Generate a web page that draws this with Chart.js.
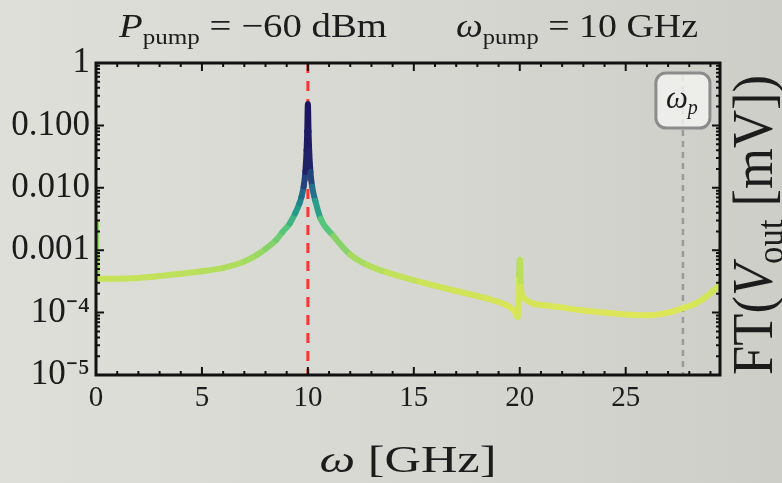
<!DOCTYPE html>
<html>
<head>
<meta charset="utf-8">
<script src="https://cdn.jsdelivr.net/npm/chart.js@4.4.1/dist/chart.umd.min.js"></script>
<style>
  html, body { margin: 0; padding: 0; }
  body {
    width: 782px; height: 483px; overflow: hidden;
    background: linear-gradient(90deg, #dedfd9 0%, #d6d7d1 55%, #cdcec8 100%);
  }
  canvas { display: block; }
</style>
</head>
<body>
<canvas id="spectrum" width="782" height="483"></canvas>
<script>
// spectrum of the output voltage, pump at 10 GHz, -60 dBm
const freqGHz = [0, 0.05, 1, 2, 3, 4, 5, 6, 7, 7.6,
  8, 8.5, 8.8, 9.15, 9.4, 9.6, 9.7, 9.8, 9.88, 9.94,
  9.97, 10, 10.03, 10.06, 10.12, 10.2, 10.35, 10.6, 11.2, 12,
  12.8, 13.7, 15.3, 16.8, 18.4, 19.4, 19.75, 19.9, 19.97, 20.0,
  20.06, 20.2, 21.3, 22.8, 24, 25.2, 26.1, 27, 27.7, 28.3,
  28.7, 29.1, 29.45];
const ftVout = [2.8e-3, 3.5e-4, 3.5e-4, 3.6e-4, 3.85e-4, 4.2e-4, 4.6e-4, 5.2e-4, 6.6e-4, 8.4e-4,
  1.05e-3, 1.45e-3, 1.95e-3, 2.7e-3, 3.9e-3, 5.6e-3, 7.2e-3, 1.05e-2, 1.8e-2, 4.0e-2,
  8.0e-2, 0.22, 8.0e-2, 4.0e-2, 1.8e-2, 1.05e-2, 6.2e-3, 3.2e-3, 1.7e-3, 8.5e-4,
  5.8e-4, 4.45e-4, 3.1e-4, 2.3e-4, 1.7e-4, 1.3e-4, 1.05e-4, 8.5e-5, 4.0e-4, 7.0e-4,
  2.6e-4, 1.7e-4, 1.3e-4, 1.1e-4, 1.0e-4, 9.2e-5, 9.1e-5, 1.0e-4, 1.18e-4, 1.4e-4,
  1.7e-4, 2.2e-4, 2.8e-4];

const xTickValues = [0, 5, 10, 15, 20, 25];
const yTickValues = [1e-5, 1e-4, 1e-3, 1e-2, 1e-1, 1];
const yTickLabels = ['10⁻⁵', '10⁻⁴', '0.001', '0.010', '0.100', '1'];

const pumpFreq = 10;     // ω_pump
const plasmaFreq = 27.7; // ω_p

const serif = "'Liberation Serif', 'Times New Roman', serif";
const ink = '#1c1c1c';

// colour of the curve follows log10 of the amplitude
const colorStops = [
  [-4.1, [224, 231, 88]],
  [-3.5, [202, 227, 88]],
  [-3.0, [150, 215, 100]],
  [-2.6, [80, 196, 124]],
  [-2.3, [34, 150, 140]],
  [-2.0, [38, 96, 140]],
  [-1.7, [32, 36, 104]],
  [-0.6, [26, 16, 92]]
];
function colorFor(v) {
  const l = Math.log10(v);
  if (l <= colorStops[0][0]) return `rgb(${colorStops[0][1].join(',')})`;
  for (let i = 1; i < colorStops.length; i++) {
    const [l1, c1] = colorStops[i];
    const [l0, c0] = colorStops[i - 1];
    if (l <= l1) {
      const t = (l - l0) / (l1 - l0);
      const c = c0.map((a, k) => Math.round(a + (c1[k] - a) * t));
      return `rgb(${c.join(',')})`;
    }
  }
  return `rgb(${colorStops[colorStops.length - 1][1].join(',')})`;
}

// text with italic / subscript pieces, squeezed to a given width
function drawRich(ctx, parts, x, y, size, width, align) {
  const fontOf = p => `${p.italic ? 'italic ' : ''}${p.sub ? Math.round(size * 0.66) : size}px ${serif}`;
  let w = 0;
  parts.forEach(p => { ctx.font = fontOf(p); w += ctx.measureText(p.text).width; });
  const sx = width ? width / w : 1;
  ctx.save();
  ctx.translate(x, y);
  ctx.scale(sx, 1);
  ctx.textAlign = 'left';
  ctx.textBaseline = 'alphabetic';
  let cx = align === 'center' ? -w / 2 : 0;
  parts.forEach(p => {
    ctx.font = fontOf(p);
    ctx.fillText(p.text, cx, p.sub ? size * 0.2 : 0);
    cx += ctx.measureText(p.text).width;
  });
  ctx.restore();
}

const decorPlugin = {
  id: 'decor',
  beforeDatasetsDraw(chart) {
    const { ctx, chartArea: a, scales: { x } } = chart;
    ctx.save();
    // pump frequency
    const xp = x.getPixelForValue(pumpFreq);
    ctx.strokeStyle = '#ff3535';
    ctx.lineWidth = 3;
    ctx.setLineDash([10, 8]);
    ctx.beginPath(); ctx.moveTo(xp, a.top); ctx.lineTo(xp, a.bottom); ctx.stroke();
    // plasma frequency
    const xw = x.getPixelForValue(plasmaFreq);
    ctx.strokeStyle = '#9a9a9a';
    ctx.lineWidth = 2.5;
    ctx.setLineDash([6, 5]);
    ctx.beginPath(); ctx.moveTo(xw, a.top + 12); ctx.lineTo(xw, a.bottom); ctx.stroke();
    ctx.restore();
  },
  afterDatasetsDraw(chart) {
    const { ctx, chartArea: a, scales: { x, y } } = chart;
    ctx.save();
    ctx.strokeStyle = '#111';
    // inward ticks on all four sides
    ctx.lineWidth = 2;
    ctx.beginPath();
    for (let d = -5; d <= 0; d++) {
      for (let m = 1; m <= 9; m++) {
        const v = m * Math.pow(10, d);
        if (v > 1) break;
        const py = y.getPixelForValue(v);
        const len = m === 1 ? 8 : 4;
        ctx.moveTo(a.left, py); ctx.lineTo(a.left + len, py);
        ctx.moveTo(a.right, py); ctx.lineTo(a.right - len, py);
      }
    }
    for (let f = 0; f <= 29; f++) {
      const px = x.getPixelForValue(f);
      const len = f % 5 === 0 ? 8 : 4;
      ctx.moveTo(px, a.bottom); ctx.lineTo(px, a.bottom - len);
      ctx.moveTo(px, a.top); ctx.lineTo(px, a.top + len);
    }
    ctx.stroke();
    // frame
    ctx.lineWidth = 3;
    ctx.strokeRect(a.left, a.top, a.right - a.left, a.bottom - a.top);

    // ω_p marker box
    const xw = x.getPixelForValue(plasmaFreq);
    const bx = xw - 27, by = a.top + 10, bw = 54, bh = 55;
    ctx.beginPath();
    ctx.roundRect(bx, by, bw, bh, 10);
    ctx.fillStyle = 'rgba(242, 242, 240, 0.85)';
    ctx.fill();
    ctx.strokeStyle = '#8c8c8c';
    ctx.lineWidth = 3;
    ctx.stroke();
    ctx.fillStyle = ink;
    drawRich(ctx, [{ text: 'ω', italic: true }, { text: 'p', italic: true, sub: true }],
      xw - 1, by + 35, 31, 0, 'center');
    ctx.restore();
  },
  afterDraw(chart) {
    const { ctx, chartArea: a } = chart;
    ctx.save();
    ctx.fillStyle = ink;
    // heading
    drawRich(ctx, [{ text: 'P', italic: true }, { text: 'pump', sub: true }, { text: ' = −60 dBm' }],
      119, 37, 34, 268, 'left');
    drawRich(ctx, [{ text: 'ω', italic: true }, { text: 'pump', sub: true }, { text: ' = 10 GHz' }],
      456, 37, 34, 242, 'left');
    // x axis title
    drawRich(ctx, [{ text: 'ω', italic: true }, { text: ' [GHz]' }],
      408, 472, 38, 177, 'center');
    // right axis title
    ctx.translate(772, (a.top + a.bottom) / 2 + 6);
    ctx.rotate(-Math.PI / 2);
    drawRich(ctx, [{ text: 'FT(' }, { text: 'V', italic: true }, { text: 'out', sub: true }, { text: ' [mV])' }],
      0, 0, 56, 300, 'center');
    ctx.restore();
  }
};

const canvas = document.getElementById('spectrum');
new Chart(canvas.getContext('2d'), {
  type: 'line',
  data: {
    datasets: [{
      data: freqGHz.map((f, i) => ({ x: f, y: ftVout[i] })),
      borderWidth: 6,
      pointRadius: 0,
      cubicInterpolationMode: 'monotone',
      borderCapStyle: 'round',
      borderJoinStyle: 'round',
      borderColor: colorFor(1e-4),
      segment: {
        borderColor: s => colorFor(Math.sqrt(s.p0.parsed.y * s.p1.parsed.y))
      }
    }]
  },
  options: {
    responsive: false,
    animation: false,
    devicePixelRatio: 1,
    layout: { padding: { top: 63, right: 62, left: 0, bottom: 0 } },
    plugins: { legend: { display: false }, tooltip: { enabled: false } },
    scales: {
      x: {
        type: 'linear',
        min: 0,
        max: 29.45,
        afterBuildTicks: s => { s.ticks = xTickValues.map(v => ({ value: v })); },
        afterFit: s => { s.height = 108; },
        grid: { display: false, drawTicks: false },
        border: { display: false },
        ticks: {
          autoSkip: false, maxRotation: 0, padding: 6, color: ink,
          font: { family: serif, size: 29 }
        }
      },
      y: {
        type: 'logarithmic',
        min: 1e-5,
        max: 1,
        afterBuildTicks: s => { s.ticks = yTickValues.map(v => ({ value: v })); },
        afterFit: s => { s.width = 96; },
        grid: { display: false, drawTicks: false },
        border: { display: false },
        ticks: {
          autoSkip: false, padding: 6, color: ink,
          font: { family: serif, size: 35 },
          callback: v => {
            const i = yTickValues.findIndex(t => Math.abs(Math.log10(t) - Math.log10(v)) < 1e-6);
            return i >= 0 ? yTickLabels[i] : '';
          }
        }
      }
    }
  },
  plugins: [decorPlugin]
});
</script>
</body>
</html>
